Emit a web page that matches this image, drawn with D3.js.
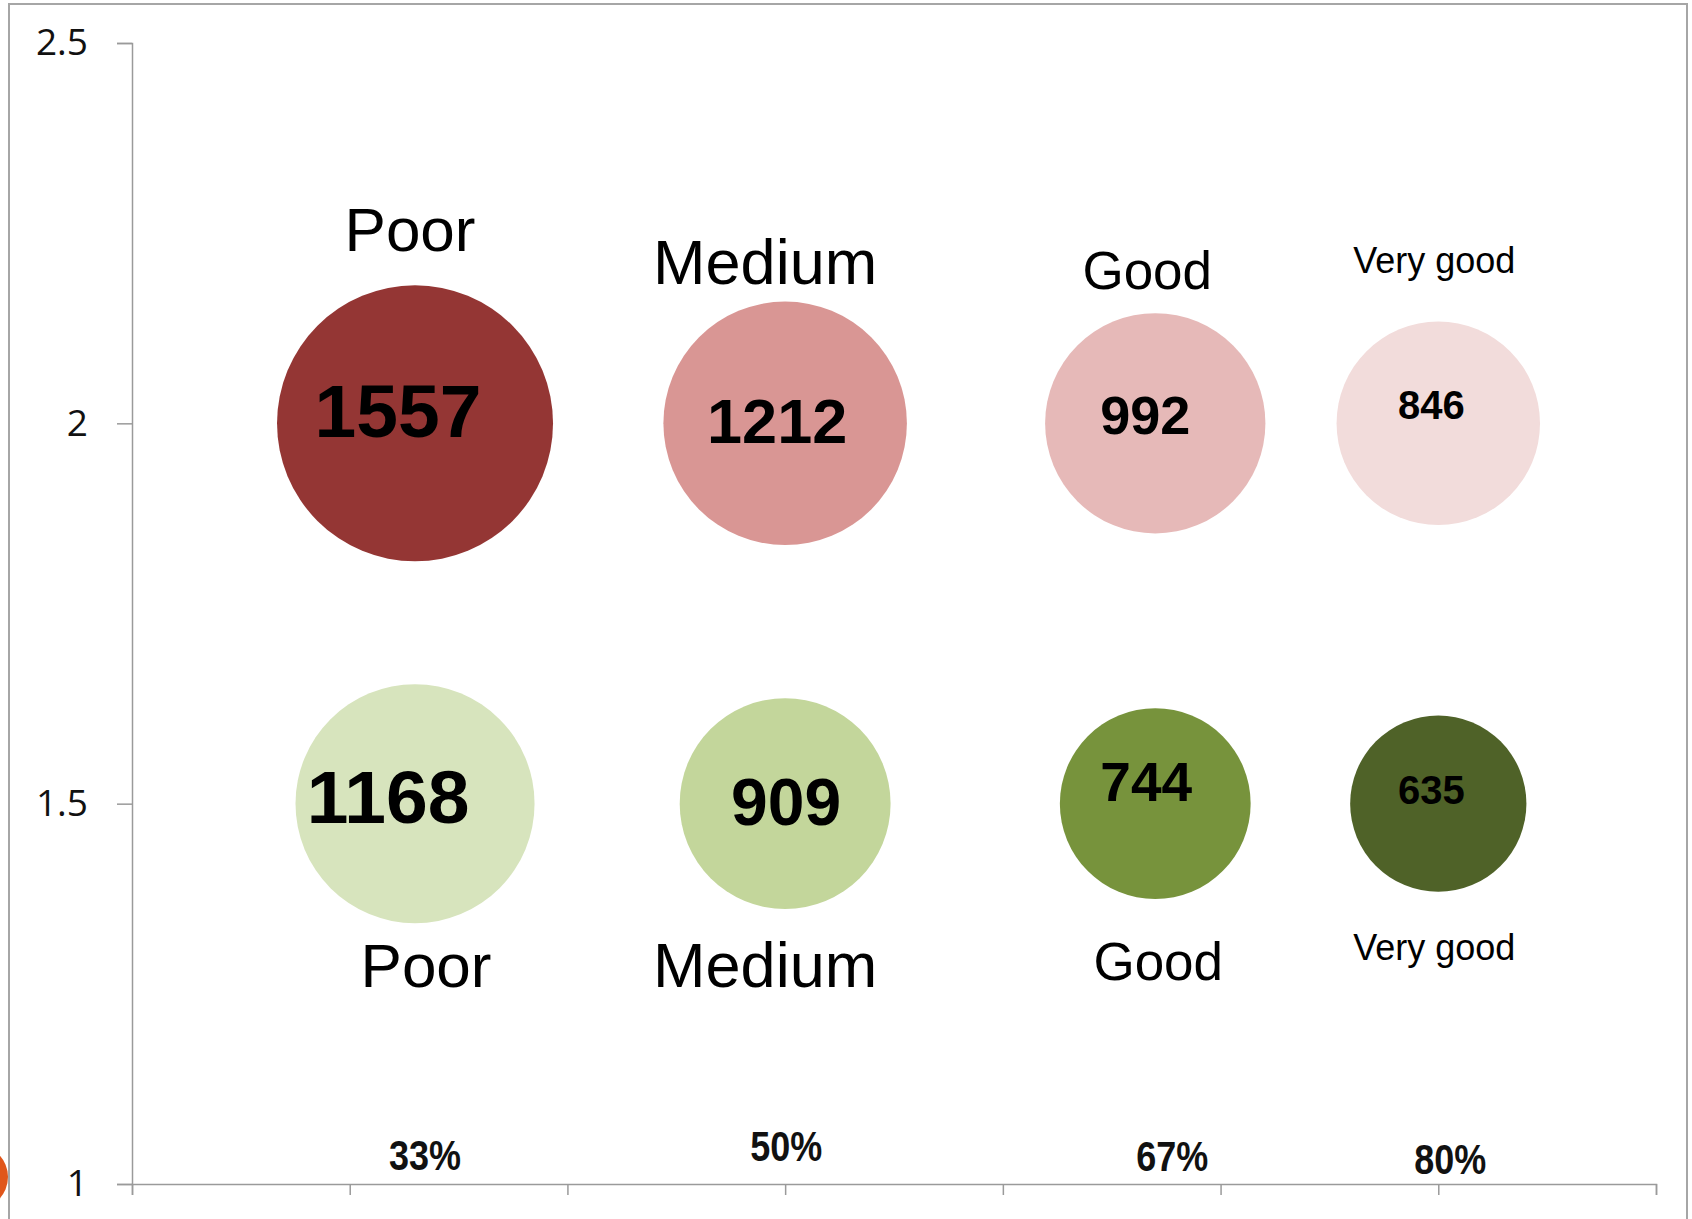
<!DOCTYPE html>
<html>
<head>
<meta charset="utf-8">
<script src="https://cdn.jsdelivr.net/npm/d3@7"></script>
<style>
    html, body { margin: 0; padding: 0; background: #fff; overflow: hidden; }
    #chart { width: 1692px; height: 1219px; }
    .axis path, .axis line { stroke: #9a9a9a; stroke-width: 1.5; }
    .axis text { font-family: "Open Sans", "Noto Sans", sans-serif; font-size: 37px; fill: #111; }
    .cat { font-family: "Liberation Sans", Arial, sans-serif; fill: #000; }
    .val { font-family: "Liberation Sans", Arial, sans-serif; font-weight: bold; fill: #000; text-anchor: middle; }
    .pct { font-family: "Liberation Sans Narrow", "Arial Narrow", "Liberation Sans", sans-serif; font-weight: bold; font-size: 42px; fill: #111; text-anchor: middle; }
</style>
</head>
<body>
<div id="chart"></div>
<script>
// data
const categories = ["Poor", "Medium", "Good", "Very good"];
const xValues = [1.3, 3.0, 4.7, 6.0];
const rowY = [2, 1.5];
const topValues = [1557, 1212, 992, 846];
const bottomValues = [1168, 909, 744, 635];
const topColors = ["#943634", "#d99694", "#e6b9b8", "#f2dcdb"];
const bottomColors = ["#d7e4bd", "#c3d69b", "#77933c", "#4f6228"];
const percentLabels = ["33%", "50%", "67%", "80%"];
const yTicks = [1, 1.5, 2, 2.5];
const xTicks = [0, 1, 2, 3, 4, 5, 6, 7];

// layout (label nudges, font sizes) - kept apart from the values
const topCatStyle = [
    {dx: -5, dy: -172, size: 62}, {dx: -20, dy: -139, size: 63},
    {dx: -8, dy: -134, size: 53}, {dx: -4, dy: -150, size: 36}];
const bottomCatStyle = [
    {dx: 11, dy: 183, size: 62}, {dx: -20, dy: 183, size: 63},
    {dx: 3, dy: 176, size: 53}, {dx: -4, dy: 156, size: 36}];
const topValStyle = [
    {dx: -17, dy: 14, size: 75}, {dx: -8, dy: 20, size: 63},
    {dx: -10, dy: 11, size: 54}, {dx: -7, dy: -4, size: 40}];
const bottomValStyle = [
    {dx: -27, dy: 19, size: 75}, {dx: 1, dy: 21, size: 66},
    {dx: -9, dy: -3, size: 55}, {dx: -7, dy: 0, size: 40}];
const pctStyle = [{dx: 10, dy: -14}, {dx: 1, dy: -23}, {dx: 17, dy: -13}, {dx: 12, dy: -10}];

const width = 1692;
const height = 1219;

const xScale = d3.scaleLinear().domain([0, 7]).range([132, 1656]);
const yScale = d3.scaleLinear().domain([1, 2.5]).range([1184, 43]);
const rScale = d3.scaleSqrt().domain([0, 1557]).range([0, 138]);

const svg = d3.select("#chart")
              .append("svg")
              .attr("width", width)
              .attr("height", height);

// slide frame + the orange dot peeking in at the left
svg.append("rect")
   .attr("x", 9).attr("y", 4)
   .attr("width", 1678).attr("height", 1240)
   .attr("fill", "none")
   .attr("stroke", "#a6a6a6")
   .attr("stroke-width", 2);

svg.append("circle")
   .attr("cx", -24).attr("cy", 1177).attr("r", 32)
   .attr("fill", "#e0561b");

// axes
svg.append("g")
   .attr("class", "axis")
   .attr("transform", "translate(132,0)")
   .call(d3.axisLeft(yScale).tickValues(yTicks).tickSize(15).tickPadding(29).tickFormat(d3.format("")));

svg.append("g")
   .attr("class", "axis")
   .attr("transform", "translate(0," + yScale(1) + ")")
   .call(d3.axisBottom(xScale).tickValues(xTicks).tickSize(11).tickFormat(""));

svg.selectAll(".axis .domain").attr("stroke", "#9a9a9a");

// bubbles
const rows = [
    {y: rowY[0], values: topValues, colors: topColors, cat: topCatStyle, val: topValStyle},
    {y: rowY[1], values: bottomValues, colors: bottomColors, cat: bottomCatStyle, val: bottomValStyle}
];

rows.forEach((row) => {
    const d = row.values.map((v, i) => ({x: xValues[i], y: row.y, v: v, i: i}));

    svg.append("g")
       .selectAll("circle")
       .data(d)
       .enter()
       .append("circle")
       .attr("cx", (p) => xScale(p.x))
       .attr("cy", (p) => yScale(p.y))
       .attr("r", (p) => rScale(p.v))
       .attr("fill", (p) => row.colors[p.i]);

    svg.append("g")
       .selectAll("text")
       .data(d)
       .enter()
       .append("text")
       .attr("class", "val")
       .attr("x", (p) => xScale(p.x) + row.val[p.i].dx)
       .attr("y", (p) => yScale(p.y) + row.val[p.i].dy)
       .style("font-size", (p) => row.val[p.i].size + "px")
       .text((p) => p.v);

    svg.append("g")
       .selectAll("text")
       .data(d)
       .enter()
       .append("text")
       .attr("class", "cat")
       .attr("text-anchor", "middle")
       .attr("x", (p) => xScale(p.x) + row.cat[p.i].dx)
       .attr("y", (p) => yScale(p.y) + row.cat[p.i].dy)
       .style("font-size", (p) => row.cat[p.i].size + "px")
       .text((p) => categories[p.i]);
});

// percentages sitting just above the x axis
svg.append("g")
   .selectAll("text")
   .data(percentLabels)
   .enter()
   .append("text")
   .attr("class", "pct")
   .attr("x", (d, i) => xScale(xValues[i]) + pctStyle[i].dx)
   .attr("y", (d, i) => yScale(1) + pctStyle[i].dy)
   .attr("textLength", 72)
   .attr("lengthAdjust", "spacingAndGlyphs")
   .text((d) => d);
</script>
</body>
</html>
